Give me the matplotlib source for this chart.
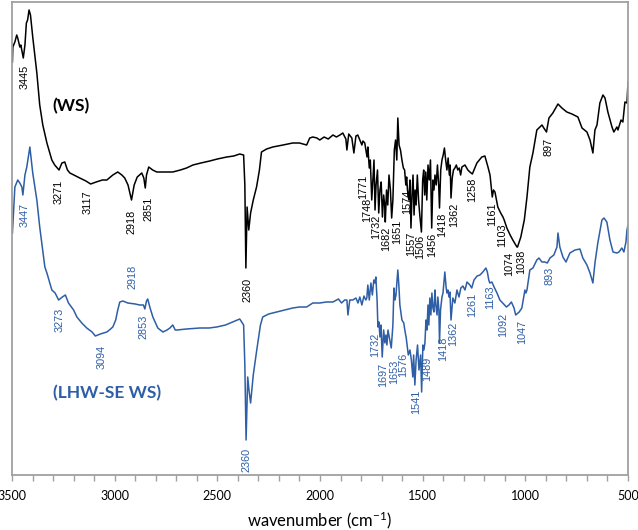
import matplotlib
matplotlib.use("Agg")
import matplotlib.pyplot as plt
from matplotlib.ticker import MultipleLocator

# FTIR spectra (wavenumber cm-1, arbitrary transmittance)
ws_wn = [3498, 3496, 3486, 3477, 3472, 3462, 3457, 3445, 3437, 3430, 3424, 3417, 3410, 3399, 3379,
         3365, 3350, 3330, 3306, 3292, 3271, 3257, 3243, 3230, 3218, 3170, 3140, 3117, 3090, 3060,
         3038, 3009, 2985, 2965, 2951, 2935, 2918, 2905, 2890, 2868, 2858, 2851, 2845, 2834, 2815,
         2795, 2760, 2717, 2680, 2650, 2619, 2580, 2537, 2500, 2454, 2420, 2391, 2372, 2366, 2361,
         2355, 2347, 2338, 2325, 2309, 2295, 2285, 2260, 2230, 2180, 2133, 2100, 2065, 2050, 2035,
         2015, 2001, 1980, 1960, 1937, 1920, 1903, 1889, 1874, 1869, 1860, 1845, 1835, 1825, 1816,
         1806, 1796, 1791, 1782, 1771, 1767, 1760, 1755, 1748, 1742, 1737, 1732, 1727, 1720, 1714,
         1708, 1702, 1696, 1690, 1685, 1682, 1676, 1670, 1664, 1657, 1651, 1645, 1638, 1632, 1626,
         1621, 1615, 1608, 1601, 1594, 1588, 1582, 1578, 1574, 1567, 1562, 1557, 1552, 1547, 1542,
         1537, 1532, 1526, 1520, 1514, 1506, 1500, 1495, 1490, 1485, 1480, 1474, 1468, 1462, 1456,
         1450, 1445, 1440, 1434, 1428, 1422, 1418, 1412, 1406, 1400, 1394, 1388, 1382, 1376, 1370,
         1366, 1362, 1356, 1350, 1343, 1336, 1329, 1322, 1315, 1309, 1294, 1280, 1270, 1258, 1248,
         1236, 1212, 1197, 1182, 1172, 1161, 1155, 1148, 1134, 1120, 1109, 1103, 1090, 1074, 1061,
         1041, 1038, 1022, 1005, 992, 978, 963, 944, 919, 910, 897, 885, 866, 841, 822,
         798, 773, 744, 724, 700, 685, 671, 661, 651, 637, 622, 612, 598, 578, 569,
         554, 549, 534, 525, 515, 505, 500]
ws_t = [413, 428, 433, 440, 437, 428, 430, 417, 430, 452, 455, 465, 460, 438, 402,
        370, 350, 332, 315, 310, 305, 312, 313, 305, 302, 297, 294, 291, 293, 295,
        295, 300, 303, 300, 297, 290, 275, 290, 298, 302, 297, 287, 300, 308, 305,
        303, 303, 303, 305, 307, 310, 312, 314, 316, 318, 319, 321, 320, 290, 207,
        268, 245, 262, 275, 288, 305, 323, 326, 328, 330, 332, 332, 330, 337, 338,
        337, 335, 338, 336, 340, 338, 340, 342, 336, 325, 341, 337, 322, 339, 340,
        335, 330, 334, 332, 318, 328, 307, 315, 275, 297, 315, 265, 290, 305, 262,
        285, 293, 258, 280, 270, 253, 285, 270, 300, 285, 257, 275, 325, 335, 315,
        357, 330, 325, 315, 307, 305, 290, 298, 285, 275, 295, 247, 280, 300, 260,
        285, 270, 300, 275, 260, 243, 295, 305, 280, 303, 275, 310, 295, 315, 247,
        295, 285, 300, 290, 310, 290, 267, 305, 315, 320, 327, 315, 305, 317, 300,
        310, 277, 297, 305, 307, 310, 305, 307, 300, 308, 310, 305, 303, 301, 306,
        312, 318, 319, 308, 300, 278, 285, 283, 268, 262, 258, 255, 247, 240, 235,
        228, 228, 238, 255, 278, 308, 322, 345, 350, 347, 343, 357, 362, 371, 367,
        363, 361, 358, 347, 343, 335, 322, 345, 350, 372, 380, 377, 363, 348, 343,
        348, 345, 355, 353, 373, 372, 393]

lhw_wn = [3498, 3486, 3472, 3462, 3452, 3447, 3437, 3428, 3413, 3399, 3379, 3365, 3340, 3330, 3306,
          3290, 3273, 3255, 3240, 3225, 3200, 3184, 3160, 3136, 3110, 3094, 3070, 3038, 3020, 3009,
          2995, 2985, 2975, 2960, 2936, 2900, 2878, 2860, 2853, 2845, 2839, 2829, 2814, 2790, 2765,
          2745, 2731, 2717, 2705, 2697, 2650, 2585, 2540, 2503, 2460, 2425, 2391, 2372, 2366, 2360,
          2352, 2346, 2338, 2325, 2308, 2290, 2279, 2250, 2211, 2170, 2133, 2100, 2065, 2035, 2001,
          1969, 1937, 1910, 1895, 1880, 1869, 1864, 1855, 1840, 1825, 1815, 1806, 1796, 1786, 1777,
          1772, 1767, 1760, 1752, 1745, 1738, 1733, 1728, 1722, 1718, 1713, 1708, 1703, 1697, 1690,
          1684, 1679, 1674, 1669, 1660, 1653, 1645, 1640, 1635, 1630, 1621, 1616, 1611, 1601, 1592,
          1587, 1580, 1576, 1570, 1562, 1555, 1548, 1544, 1538, 1532, 1525, 1518, 1510, 1505, 1499,
          1494, 1489, 1484, 1479, 1474, 1470, 1465, 1460, 1455, 1450, 1445, 1440, 1436, 1430, 1426,
          1421, 1418, 1413, 1406, 1401, 1392, 1386, 1382, 1377, 1372, 1367, 1362, 1353, 1343, 1333,
          1323, 1314, 1304, 1294, 1284, 1270, 1261, 1250, 1235, 1221, 1207, 1192, 1185, 1178, 1173,
          1163, 1150, 1138, 1124, 1110, 1092, 1080, 1068, 1055, 1047, 1030, 1017, 1002, 997, 992,
          978, 963, 944, 934, 919, 905, 893, 880, 861, 846, 841, 832, 817, 802, 783,
          758, 734, 720, 700, 685, 671, 661, 647, 627, 617, 603, 588, 573, 554, 544,
          530, 520, 510, 505, 500]
lhw_t = [242, 288, 295, 292, 288, 280, 300, 308, 328, 302, 275, 248, 208, 202, 185,
         182, 175, 178, 180, 172, 165, 158, 152, 147, 143, 139, 141, 143, 146, 148,
         155, 165, 173, 174, 172, 171, 170, 170, 166, 174, 176, 168, 158, 147, 143,
         145, 147, 150, 145, 145, 146, 147, 147, 148, 150, 153, 156, 150, 110, 35,
         98, 85, 72, 100, 125, 150, 158, 161, 163, 165, 167, 168, 168, 172, 172,
         173, 173, 176, 172, 175, 175, 160, 175, 175, 177, 172, 178, 170, 179, 175,
         177, 190, 175, 192, 180, 195, 192, 198, 175, 148, 153, 138, 150, 118, 145,
         132, 140, 130, 145, 135, 127, 150, 187, 175, 180, 205, 190, 170, 155, 152,
         145, 137, 130, 120, 125, 115, 98, 120, 90, 115, 130, 105, 120, 83, 130,
         125, 132, 155, 145, 170, 150, 177, 160, 182, 167, 163, 185, 170, 160, 178,
         165, 132, 165, 178, 182, 203, 188, 182, 185, 178, 183, 155, 177, 172, 185,
         178, 187, 189, 185, 193, 190, 187, 195, 199, 200, 203, 207, 203, 195, 192,
         193, 187, 182, 175, 172, 168, 170, 173, 167, 160, 163, 167, 185, 182, 185,
         205, 207, 215, 217, 213, 213, 212, 217, 220, 228, 242, 228, 218, 213, 222,
         225, 226, 217, 210, 202, 192, 212, 232, 255, 257, 253, 235, 223, 222, 223,
         227, 223, 233, 245, 250]

# peak labels: text, anchor wavenumber, anchor height (top of rotated text)
ws_peaks = ["3445", "3271", "3117", "2918", "2851", "2360", "1771", "1748", "1732", "1682", "1651",
            "1574", "1557", "1506", "1456", "1418", "1362", "1258", "1161", "1103", "1074",
            "1038", "897"]
ws_peak_x = [3437, 3272, 3131, 2916, 2834, 2351, 1791, 1772, 1728, 1679, 1626,
             1577, 1557, 1514, 1455, 1406, 1348, 1260, 1163, 1114, 1080, 1022, 885]
ws_peak_y = [410, 295, 285, 265, 278, 197, 300, 277, 260, 248, 255,
             285, 243, 240, 242, 262, 272, 297, 273, 252, 223, 225, 337]

lhw_peaks = ["3447", "3273", "3094", "2918", "2853", "2360", "1732", "1697", "1653", "1576",
             "1541", "1489", "1418", "1362", "1261", "1163", "1092", "1047", "893"]
lhw_peak_x = [3437, 3267, 3063, 2912, 2858, 2356, 1733, 1690, 1641, 1596,
              1533, 1479, 1401, 1353, 1260, 1173, 1109, 1017, 880]
lhw_peak_y = [272, 167, 130, 210, 160, 27, 142, 112, 115, 122,
              85, 118, 138, 153, 182, 190, 162, 155, 208]

blue = "#2e5ea6"
plt.rcParams["mathtext.default"] = "regular"

fig = plt.figure(figsize=(6.38, 5.30), dpi=100)
ax = fig.add_axes([12 / 638, 55 / 530, 616 / 638, 473 / 530])

ax.plot(ws_wn, ws_t, color="black", lw=1.1)
ax.plot(lhw_wn, lhw_t, color=blue, lw=1.1)

for txt, x, y in zip(ws_peaks, ws_peak_x, ws_peak_y):
    ax.text(x, y, txt, rotation=90, ha="center", va="top", fontsize=7.8,
            family="Liberation Sans", color="black")
for txt, x, y in zip(lhw_peaks, lhw_peak_x, lhw_peak_y):
    ax.text(x, y, txt, rotation=90, ha="center", va="top", fontsize=7.8,
            family="Liberation Sans", color=blue)

ax.text(3301, 369, "(WS)", fontsize=12.5, fontweight="bold", family="Lato",
        va="center", ha="left", color="black")
ax.text(3301, 82, "(LHW-SE WS)", fontsize=12.5, fontweight="bold", family="Lato",
        va="center", ha="left", color=blue)

ax.set_xlim(3500, 500)
ax.set_ylim(0, 473)
ax.set_yticks([])
ax.xaxis.set_major_locator(MultipleLocator(500))
ax.xaxis.set_minor_locator(MultipleLocator(100))
ax.tick_params(axis="x", which="both", direction="out", length=4, width=1,
               color="#a0a0a0", labelsize=9, pad=7)
for lab in ax.get_xticklabels():
    lab.set_family("Lato")
for sp in ax.spines.values():
    sp.set_color("#a0a0a0")
    sp.set_linewidth(1.3)

ax.set_xlabel("wavenumber (cm$^{-1}$)", fontsize=12, family="Lato", labelpad=5)

fig.savefig("out.png", dpi=100)
